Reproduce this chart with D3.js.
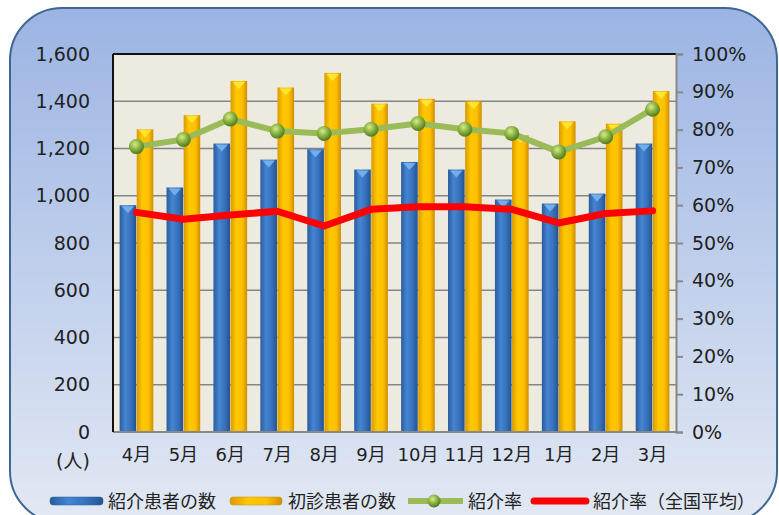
<!DOCTYPE html>
<html><head><meta charset="utf-8">
<script src="https://cdn.jsdelivr.net/npm/d3@7"></script>
<style>body{margin:0;background:#fff}svg{display:block}</style>
</head><body>
<svg id="c" width="779" height="515"></svg>
<script>
const months = ["4月","5月","6月","7月","8月","9月","10月","11月","12月","1月","2月","3月"];
const referred = [960,1035,1221,1153,1197,1111,1143,1111,984,967,1009,1221];
const firstVisit = [1281,1341,1486,1458,1520,1390,1410,1400,1256,1315,1305,1443];
const referralRate = [0.755,0.774,0.828,0.796,0.790,0.801,0.816,0.801,0.790,0.741,0.781,0.854];
const nationalRate = [0.581,0.563,0.574,0.584,0.545,0.589,0.596,0.596,0.589,0.553,0.578,0.585];
const leftTicks = [0,200,400,600,800,1000,1200,1400,1600];
const rightTicks = [0,0.1,0.2,0.3,0.4,0.5,0.6,0.7,0.8,0.9,1.0];
const seriesNames = ["紹介患者の数","初診患者の数","紹介率","紹介率（全国平均）"];

const svg = d3.select("#c");
const defs = svg.append("defs");
const font = "'DejaVu Sans','Noto Sans CJK JP',sans-serif";

// background gradient
const bg = defs.append("linearGradient").attr("id","bg").attr("x1",0).attr("y1",0).attr("x2",0).attr("y2",1);
bg.append("stop").attr("offset","0").attr("stop-color","#9BB4E3");
bg.append("stop").attr("offset","1").attr("stop-color","#E3E9F4");
function hgrad(id, stops){
  const g = defs.append("linearGradient").attr("id",id).attr("x1",0).attr("y1",0).attr("x2",1).attr("y2",0);
  stops.forEach(s=>g.append("stop").attr("offset",s[0]).attr("stop-color",s[1]));
}
hgrad("gBlue",[[0,"#2A5C9E"],[0.35,"#4585D2"],[0.7,"#3670BA"],[1,"#24528F"]]);
hgrad("gYel",[[0,"#D99A00"],[0.35,"#FFC800"],[0.7,"#FFC000"],[1,"#CF8E00"]]);
const rg = defs.append("radialGradient").attr("id","gDot").attr("cx","40%").attr("cy","35%").attr("r","65%");
rg.append("stop").attr("offset","0").attr("stop-color","#D6EC8C");
rg.append("stop").attr("offset","0.5").attr("stop-color","#8DB544");
rg.append("stop").attr("offset","1").attr("stop-color","#4F7A1E");

svg.append("rect").attr("x",10).attr("y",8).attr("width",767).attr("height",515)
  .attr("rx",52).attr("ry",52).attr("fill","url(#bg)").attr("stroke","#3F6794").attr("stroke-width",2);

const L=113, R=676, T=54, B=432;
const x = d3.scaleBand().domain(months).range([L,R]).paddingInner(0.26).paddingOuter(0.13);
const x1 = d3.scaleBand().domain([0,1]).range([0,x.bandwidth()]).padding(0.03);
const y = d3.scaleLinear().domain([0,1600]).range([B,T]);
const yr = d3.scaleLinear().domain([0,1]).range([B,T]);
const cx = m => x(m)+x.bandwidth()/2;

svg.append("rect").attr("x",L).attr("y",T).attr("width",R-L).attr("height",B-T).attr("fill","#EDEAE0");
svg.append("g").selectAll("line").data(leftTicks.slice(1,-1)).join("line")
  .attr("x1",L).attr("x2",R).attr("y1",d=>y(d)).attr("y2",d=>y(d)).attr("stroke","#858585").attr("stroke-width",1.5);

// bars
function bars(data, idx, fill, cap){
  const g = svg.append("g");
  g.selectAll("rect").data(data).join("rect")
    .attr("x",(d,i)=>x(months[i])+x1(idx)).attr("y",d=>y(d))
    .attr("width",x1.bandwidth()).attr("height",d=>B-y(d)).attr("fill",fill);
  g.selectAll("path").data(data).join("path")
    .attr("d",(d,i)=>{const x0=x(months[i])+x1(idx), w=x1.bandwidth(), yt=y(d);
      return `M${x0+2},${yt+1}L${x0+w-2},${yt+1}L${x0+w/2},${yt+8}Z`;})
    .attr("fill",cap).attr("opacity",0.85);
}
bars(referred,0,"url(#gBlue)","#7DB6F2");
bars(firstVisit,1,"url(#gYel)","#FFEB3B");

// axes
svg.append("line").attr("x1",L).attr("x2",R).attr("y1",B).attr("y2",B).attr("stroke","#888").attr("stroke-width",2);
svg.append("line").attr("x1",L).attr("x2",R).attr("y1",T).attr("y2",T).attr("stroke","#111").attr("stroke-width",2);
svg.append("line").attr("x1",L).attr("x2",L).attr("y1",T).attr("y2",B).attr("stroke","#111").attr("stroke-width",2);

const ay = svg.append("g").attr("transform",`translate(${L},0)`)
  .call(d3.axisLeft(y).tickValues(leftTicks).tickSize(0).tickPadding(23).tickFormat(d3.format(",")));
ay.select(".domain").remove();
ay.selectAll("text").attr("font-family",font).attr("font-size",19).attr("fill","#222");

const ar = svg.append("g").attr("transform",`translate(${R},0)`)
  .call(d3.axisRight(yr).tickValues(rightTicks).tickSize(7).tickPadding(9).tickFormat(d3.format(".0%")));
ar.select(".domain").attr("stroke","#888").attr("stroke-width",2);
ar.selectAll(".tick line").attr("stroke","#888").attr("stroke-width",2);
ar.selectAll("text").attr("font-family",font).attr("font-size",19).attr("fill","#222");

const ax = svg.append("g").attr("transform",`translate(0,${B})`)
  .call(d3.axisBottom(x).tickSize(0).tickPadding(16));
ax.select(".domain").remove();
ax.selectAll("text").attr("font-family",font).attr("font-size",18).attr("fill","#222");

svg.append("text").attr("x",73).attr("y",468).attr("text-anchor","middle")
  .attr("font-family",font).attr("font-size",19).attr("fill","#222").text("(人)");

// lines
const line = d3.line().x((d,i)=>cx(months[i])).y(d=>yr(d));
svg.append("path").datum(nationalRate).attr("d",line).attr("fill","none")
  .attr("stroke","#FF0000").attr("stroke-width",7).attr("stroke-linejoin","round").attr("stroke-linecap","round");
svg.append("path").datum(referralRate).attr("d",line).attr("fill","none")
  .attr("stroke","#9BBB59").attr("stroke-width",6).attr("stroke-linejoin","round");
svg.append("g").selectAll("circle").data(referralRate).join("circle")
  .attr("cx",(d,i)=>cx(months[i])).attr("cy",d=>yr(d)).attr("r",7.5).attr("fill","url(#gDot)");

// legend
const lg = svg.append("g");
const ly = 501;
lg.append("rect").attr("x",50).attr("y",ly-4).attr("width",53).attr("height",8).attr("rx",3).attr("fill","url(#gBlue)").attr("stroke","#2A5C9E").attr("stroke-width",0.5);
lg.append("rect").attr("x",230).attr("y",ly-4).attr("width",52).attr("height",8).attr("rx",3).attr("fill","url(#gYel)").attr("stroke","#CF8E00").attr("stroke-width",0.5);
lg.append("line").attr("x1",408).attr("x2",463).attr("y1",ly).attr("y2",ly).attr("stroke","#9BBB59").attr("stroke-width",6);
lg.append("circle").attr("cx",434).attr("cy",ly).attr("r",6.5).attr("fill","url(#gDot)");
lg.append("line").attr("x1",534).attr("x2",586).attr("y1",ly).attr("y2",ly).attr("stroke","#FF0000").attr("stroke-width",7).attr("stroke-linecap","round");
const lx = [108,288,468,593];
lg.selectAll("text").data(seriesNames).join("text")
  .attr("x",(d,i)=>lx[i]).attr("y",ly+6.5).attr("font-family",font).attr("font-size",18).attr("fill","#222").text(d=>d);
</script>
</body></html>
